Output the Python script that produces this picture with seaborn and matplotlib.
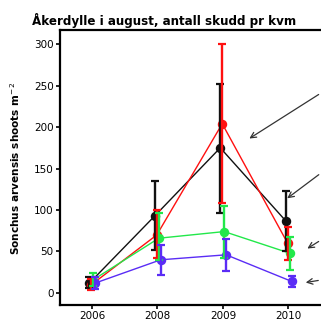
import numpy as np
import pandas as pd
import seaborn as sns
import matplotlib.pyplot as plt

years = ["2006", "2008", "2009", "2010"]
series = ["black", "red", "green", "blue"]
colors = {"black": "#111111", "red": "#ff1010", "green": "#22e84a", "blue": "#5a2cf5"}

means = {
    "black": [12, 93, 175, 87],
    "red":   [10, 70, 204, 60],
    "green": [16, 66, 74, 48],
    "blue":  [12, 40, 46, 14],
}
lower = {
    "black": [6, 52, 97, 50],
    "red":   [4, 42, 108, 40],
    "green": [8, 40, 42, 28],
    "blue":  [5, 22, 27, 7],
}
upper = {
    "black": [19, 135, 252, 123],
    "red":   [17, 100, 300, 80],
    "green": [24, 97, 105, 68],
    "blue":  [19, 58, 65, 21],
}
offsets = {"black": -0.04, "red": -0.01, "green": 0.02, "blue": 0.05}

rows = []
for s in series:
    for i, y in enumerate(years):
        rows.append({"series": s, "x": i + offsets[s], "y": means[s][i],
                     "lo": lower[s][i], "hi": upper[s][i]})
df = pd.DataFrame(rows)

sns.set_style("white")
plt.rcParams["text.color"] = "black"
plt.rcParams["xtick.color"] = "black"
plt.rcParams["ytick.color"] = "black"

fig = plt.figure(figsize=(3.21, 3.20), dpi=100)
ax = fig.add_axes([60 / 321, 15 / 320, 261 / 321, 275 / 320])

for s in series:
    d = df[df.series == s]
    sns.lineplot(data=d, x="x", y="y", color=colors[s], marker="o",
                 markersize=5.5, linewidth=1, markeredgewidth=1.3,
                 markeredgecolor=colors[s], legend=False, ax=ax)
    ax.errorbar(d.x, d.y, yerr=[d.y - d.lo, d.hi - d.y], fmt="none",
                ecolor=colors[s], elinewidth=1.7, capsize=3, capthick=1.6, zorder=3)

ax.set_xlim(-0.49, 3.5)
ax.set_ylim(-14.5, 317)
ax.set_xticks(range(len(years)))
ax.set_xticklabels(years)
ax.set_yticks(np.arange(0, 301, 50))
ax.tick_params(axis="both", labelsize=7.5, length=3, width=1.2, direction="out",
               bottom=True, left=True, pad=1.5, colors="black")
ax.set_xlabel("")
ax.set_ylabel("")
for side in ["left", "bottom", "top"]:
    ax.spines[side].set_linewidth(1.6)
    ax.spines[side].set_color("black")
ax.spines["right"].set_visible(False)

fig.text(32 / 321, 1 - 20 / 320, "Åkerdylle i august, antall skudd pr kvm",
         fontsize=8.6, fontweight="bold", va="center", ha="left")
fig.text(15 / 321, 1 - 168 / 320, "Sonchus arvensis shoots m$^{-2}$",
         fontsize=7.6, fontweight="bold", rotation=90, va="center", ha="center")

# arrows pointing in from the right edge (figure pixels)
arrows = [((321, 93), (247, 140)), ((321, 173), (285, 200)),
          ((321, 240), (305, 250)), ((321, 280), (303, 283))]
for (tx, ty), (hx, hy) in arrows:
    ax.annotate("", xy=(hx / 321, 1 - hy / 320), xycoords="figure fraction",
                xytext=(tx / 321, 1 - ty / 320), textcoords="figure fraction",
                arrowprops=dict(arrowstyle="->", color="#333333", lw=0.9),
                annotation_clip=False)

fig.savefig("out.png", dpi=100)
